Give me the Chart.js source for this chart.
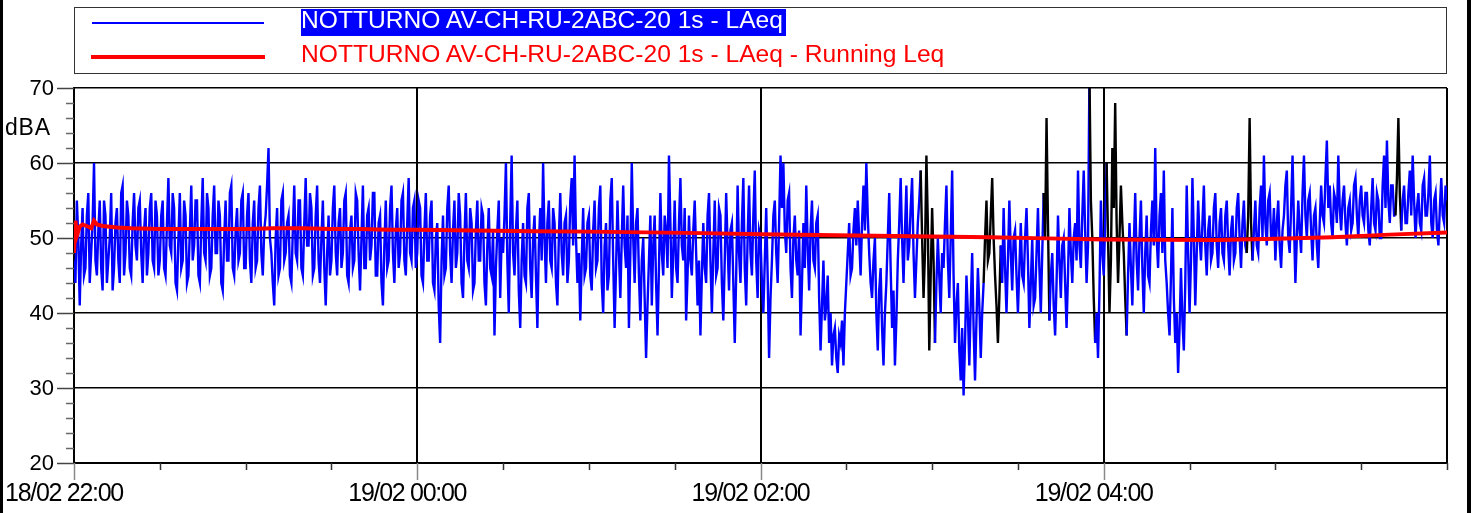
<!DOCTYPE html>
<html>
<head>
<meta charset="utf-8">
<script src="https://cdn.jsdelivr.net/npm/chart.js@4.4.0/dist/chart.umd.min.js"></script>
<style>
  html, body { margin: 0; padding: 0; background: #fff; }
  body { width: 1471px; height: 513px; position: relative; overflow: hidden; font-family: "Liberation Sans", Arial, sans-serif; }
  #chart { position: absolute; left: 0; top: 0; }
  .frame-l { position: absolute; left: 0; top: 0; width: 3px; height: 513px; background: #000; }
  .frame-r { position: absolute; right: 0; top: 0; width: 4px; height: 513px; background: #000; }
  #legendBox { position: absolute; left: 74px; top: 7px; width: 1373px; height: 67px; box-sizing: border-box; border: 1px solid #333; }
  .swatch { position: absolute; }
  .ltext { position: absolute; left: 301px; font-size: 24.6px; line-height: 22px; white-space: nowrap; }
  #ylabel { position: absolute; left: 5px; top: 116px; font-size: 23px; line-height: 22px; letter-spacing: 0.8px; color: #000; }
</style>
</head>
<body>
<canvas id="chart" width="1471" height="513"></canvas>
<div id="legendBox"></div>
<div class="swatch" style="left:92px; top:22px; width:172px; height:2px; background:#0000ff;"></div>
<div class="ltext" style="top:9px; height:27px; background:#0000ff; color:#fff; padding-right:3px;">NOTTURNO AV-CH-RU-2ABC-20 1s - LAeq</div>
<div class="swatch" style="left:91px; top:55px; width:174px; height:4px; background:#ff0000;"></div>
<div class="ltext" style="top:43px; color:#ff0000;">NOTTURNO AV-CH-RU-2ABC-20 1s - LAeq - Running Leq</div>
<div id="ylabel">dBA</div>
<div class="frame-l"></div>
<div class="frame-r"></div>
<script>
// LAeq every 30 s from 18/02 22:00 (one row = 30 minutes)
const laeq = [
  47,44,55,50,41,49,54,45,46,53,56,44,48,52,60,47,45,51,55,46,43,55,53,44,47,50,56,43,46,52,54,47,44,56,57,45,48,55,53,46,45,52,56,49,47,54,55,48,44,51,54,45,48,54,56,47,46,55,53,45,
  47,53,55,46,45,52,58,49,48,56,54,44,43,50,56,46,47,55,53,44,45,51,57,47,49,55,55,45,44,52,58,48,47,56,54,45,46,53,57,48,48,55,53,44,43,50,55,47,47,56,57,46,45,51,54,47,48,55,56,46,
  46,53,56,47,44,52,55,46,47,54,57,48,45,51,53,57,62,50,48,44,41,50,54,45,46,55,56,47,48,52,53,45,44,51,57,48,47,55,55,46,45,52,58,49,49,56,54,45,46,53,57,47,44,50,55,46,41,48,53,45,
  47,54,57,48,45,52,54,46,48,55,56,45,44,51,53,46,47,56,55,48,43,50,57,46,46,53,54,47,49,56,56,45,45,52,53,44,41,49,55,46,47,54,57,48,44,51,54,46,48,55,56,47,45,52,58,48,47,54,55,46,
  48,55,54,45,44,51,56,47,47,53,55,44,43,50,52,41,36,47,53,45,46,54,57,48,44,51,55,46,48,56,53,44,42,50,56,47,46,54,52,43,44,51,55,47,47,54,53,44,41,49,54,46,45,51,37,46,51,55,42,50,
  48,53,60,47,40,52,61,48,45,51,55,43,38,47,52,45,44,54,56,46,42,50,53,45,38,49,54,47,60,50,44,52,55,47,46,54,52,44,41,50,56,48,45,52,53,44,47,55,58,49,61,50,44,48,39,47,54,45,46,52,
  53,45,43,51,55,46,47,54,57,44,40,49,52,43,45,55,58,47,38,46,55,48,42,50,57,49,46,53,38,48,60,50,44,52,54,45,39,47,50,42,34,41,47,53,41,49,53,44,37,46,56,48,45,53,51,46,61,52,42,48,
  55,46,44,52,58,49,47,54,39,45,53,47,45,51,55,48,41,47,37,45,52,46,44,53,56,47,40,48,55,45,46,54,53,44,39,47,56,49,43,51,52,44,36,45,57,48,44,52,58,46,41,50,57,48,45,53,59,47,42,51,
  50,44,40,47,54,45,34,42,47,53,55,48,44,52,61,54,60,51,48,55,56,46,42,50,53,47,45,51,37,44,52,46,57,49,43,51,55,47,46,52,53,42,35,41,47,39,41,45,36,40,33,37,38,34,32,37,36,39,33,40,
  44,48,52,45,46,51,54,49,55,50,45,52,57,51,60,53,48,44,42,47,50,40,35,43,46,38,33,40,44,50,56,46,38,43,33,39,47,52,58,50,44,51,57,47,49,54,58,48,42,47,52,55,59,50,42,48,61,52,35,45,
  54,47,36,44,50,45,40,48,46,52,57,47,42,50,59,45,36,41,44,35,31,38,29,36,45,40,33,41,48,38,31,39,46,41,34,40,44,50,55,47,48,53,58,50,45,41,36,42,49,44,54,46,40,47,55,48,43,50,51,45,
  40,46,52,45,44,50,54,47,38,44,50,41,42,48,54,46,40,48,56,50,66,52,39,45,48,41,37,44,53,47,42,49,50,44,38,45,54,48,44,50,52,47,59,49,46,53,59,51,44,49,72,55,50,42,36,40,34,43,55,48,
  45,52,60,50,40,47,62,54,68,52,44,50,57,52,48,42,37,45,52,46,41,49,56,47,43,50,55,46,40,48,53,45,44,51,55,49,62,50,46,53,56,48,59,47,44,40,37,45,54,42,36,40,32,38,46,39,35,44,57,48,
  40,47,58,50,41,48,55,50,47,52,57,49,45,51,53,47,48,54,56,49,46,52,54,48,47,53,55,49,45,51,53,47,48,54,56,50,46,52,55,49,48,53,66,52,47,51,55,49,48,54,57,50,61,52,49,55,56,50,50,54,
  47,52,55,49,46,51,53,57,59,50,48,54,61,52,44,50,55,51,48,56,61,53,50,55,56,51,47,53,54,49,46,52,57,53,52,58,63,54,57,52,50,56,55,52,61,54,51,55,57,52,49,54,55,51,52,57,58,53,50,55,
  57,53,52,56,56,51,49,54,58,52,51,56,55,50,50,57,61,54,63,55,52,57,57,53,53,58,66,56,51,55,57,52,52,56,59,53,61,55,50,54,56,52,51,57,58,53,53,56,61,52,50,55,56,51,49,54,58,53,52,57,
  55
];
const sampleStep = 0.5; // minutes between readings

// running Leq curve
const runMinutes = [0, 0.5, 1, 2, 3, 5, 6, 7, 8, 10, 15, 20, 30, 40, 50, 60, 70, 80, 90, 100, 110, 120, 140, 160, 180, 200, 220, 240, 260, 280, 300, 320, 340, 360, 380, 400, 420, 440, 460, 480];
const runningLeq = [48, 52.3, 50.3, 51.5, 51.8, 51.5, 51.3, 52.3, 51.8, 51.6, 51.4, 51.3, 51.2, 51.2, 51.2, 51.2, 51.3, 51.3, 51.2, 51.2, 51.1, 51.1, 51.0, 50.9, 50.85, 50.75, 50.65, 50.5, 50.4, 50.3, 50.2, 50.1, 49.95, 49.8, 49.75, 49.75, 49.9, 50.1, 50.45, 50.75];

// stretches drawn in black (masked samples), in minutes
const maskedFrom = [296, 318, 339, 355, 361, 410, 462];
const maskedTo   = [301, 324, 341, 357, 368, 412, 464];

const xTickMinutes = [0, 120, 240, 360];
const xTickLabels = ['18/02 22:00', '19/02 00:00', '19/02 02:00', '19/02 04:00'];
const yTickLabels = [20, 30, 40, 50, 60, 70];

function isMasked(m) {
  for (let i = 0; i < maskedFrom.length; i++) {
    if (m >= maskedFrom[i] && m < maskedTo[i]) return true;
  }
  return false;
}

const axisDecor = {
  id: 'axisDecor',
  afterDraw(chart) {
    const { ctx, scales: { x, y }, chartArea } = chart;
    ctx.save();
    ctx.lineWidth = 1.5;
    for (let v = 20; v <= 70; v += 2) {
      const py = Math.round(y.getPixelForValue(v)) + 0.5;
      const len = v % 10 === 0 ? 17 : 8;
      ctx.strokeStyle = v % 10 === 0 ? '#444' : '#666';
      ctx.beginPath();
      ctx.moveTo(chartArea.left - len, py);
      ctx.lineTo(chartArea.left, py);
      ctx.stroke();
    }
    for (let m = 0; m <= 480; m += 30) {
      const px = Math.round(x.getPixelForValue(m)) + 0.5;
      const major = xTickMinutes.includes(m);
      ctx.strokeStyle = major ? '#888' : '#333';
      ctx.beginPath();
      ctx.moveTo(px, chartArea.bottom);
      ctx.lineTo(px, chartArea.bottom + (major ? 17 : 7));
      ctx.stroke();
    }

    ctx.fillStyle = '#000';
    ctx.textBaseline = 'middle';
    ctx.textAlign = 'right';
    ctx.font = '22px "Liberation Sans", Arial, sans-serif';
    yTickLabels.forEach(v => {
      ctx.fillText(String(v), 54, y.getPixelForValue(v) + 1);
    });

    ctx.textAlign = 'center';
    ctx.font = '25px "Liberation Sans", Arial, sans-serif';
    ctx.letterSpacing = '-1.3px';
    xTickMinutes.forEach((m, i) => {
      ctx.fillText(xTickLabels[i], x.getPixelForValue(m) - 10, 494);
    });
    ctx.restore();
  }
};

new Chart(document.getElementById('chart'), {
  type: 'line',
  data: {
    datasets: [
      {
        label: 'NOTTURNO AV-CH-RU-2ABC-20 1s - LAeq - Running Leq',
        data: runMinutes.map((m, i) => ({ x: m, y: runningLeq[i] })),
        borderColor: '#ff0000',
        borderWidth: 4,
        pointRadius: 0,
        order: 0
      },
      {
        label: 'NOTTURNO AV-CH-RU-2ABC-20 1s - LAeq',
        data: laeq.map((v, i) => ({ x: i * sampleStep, y: v })),
        borderColor: '#0000ff',
        borderWidth: 2.4,
        pointRadius: 0,
        order: 1,
        segment: {
          borderColor: c => isMasked(c.p0.parsed.x) ? '#000000' : '#0000ff'
        }
      }
    ]
  },
  options: {
    responsive: false,
    animation: false,
    layout: { padding: { top: 88, right: 24, left: 0, bottom: 0 } },
    plugins: { legend: { display: false }, tooltip: { enabled: false } },
    scales: {
      x: {
        type: 'linear',
        min: 0,
        max: 480,
        afterFit: s => { s.height = 50; },
        ticks: { stepSize: 30, autoSkip: false, display: false },
        grid: {
          drawTicks: false,
          lineWidth: 2,
          color: c => (c.tick && [0, 120, 240, 360, 480].includes(c.tick.value)) ? '#000' : 'rgba(0,0,0,0)'
        },
        border: { color: '#000', width: 2 }
      },
      y: {
        min: 20,
        max: 70,
        afterFit: s => { s.width = 74; },
        ticks: { stepSize: 2, autoSkip: false, display: false },
        grid: {
          drawTicks: false,
          lineWidth: 1.5,
          color: c => (c.tick && c.tick.value % 10 === 0) ? '#000' : 'rgba(0,0,0,0)'
        },
        border: { color: '#000', width: 2 }
      }
    }
  },
  plugins: [axisDecor]
});
</script>
</body>
</html>
